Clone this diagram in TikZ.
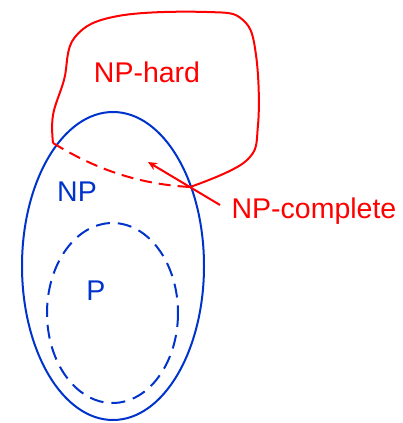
\documentclass[tikz,border=0pt]{standalone}
\usepackage{fontspec}
\setmainfont{Liberation Sans}
\usetikzlibrary{arrows.meta}
\definecolor{setblue}{RGB}{0,51,204}
\definecolor{setred}{RGB}{255,0,0}
\tikzset{
  setline/.style={line width=2pt},
  reddash/.style={setline, setred, dash pattern=on 12pt off 7pt},
  bluedash/.style={setline, setblue, dash pattern=on 14pt off 8pt},
  lbl/.style={font=\fontsize{28.5}{30}\selectfont, inner sep=0pt, anchor=base},
}
\begin{document}
\begin{tikzpicture}[x=1pt, y=-1pt]
  \useasboundingbox (0,0) rectangle (403,423);

  % NP and P sets
  \draw[setline, setblue] (113,266) ellipse [x radius=91, y radius=154];
  \draw[bluedash] (112.5,313) ellipse [x radius=65.5, y radius=90];

  % NP-hard region: solid outline and dashed boundary inside NP
  \draw[setline, setred, line join=round] plot[smooth, tension=0.65] coordinates {
    (53,143) (53,115) (64,80) (75,37) (118,16) (207,12) (243,20)
    (256,55) (258,125) (246,161) (190,187)};
  \draw[reddash] (53,143) .. controls (92,167) and (135,184) .. (190,187);

  % labels
  \node[lbl, setred]  (nphard) at (147,82)  {NP-hard};
  \node[lbl, setblue] (np)     at (77,201)  {NP};
  \node[lbl, setblue] (p)      at (96,300)  {P};
  \node[lbl, setred]  (npc)    at (314,218) {NP-complete};

  % pointer from the NP-complete label into the intersection
  \coordinate (npcfrom) at (220,205);
  \coordinate (npcto) at (148,162);
  \draw[setline, setred, -{Stealth[length=9pt, width=8pt]}] (npcfrom) -- (npcto);
\end{tikzpicture}
\end{document}
